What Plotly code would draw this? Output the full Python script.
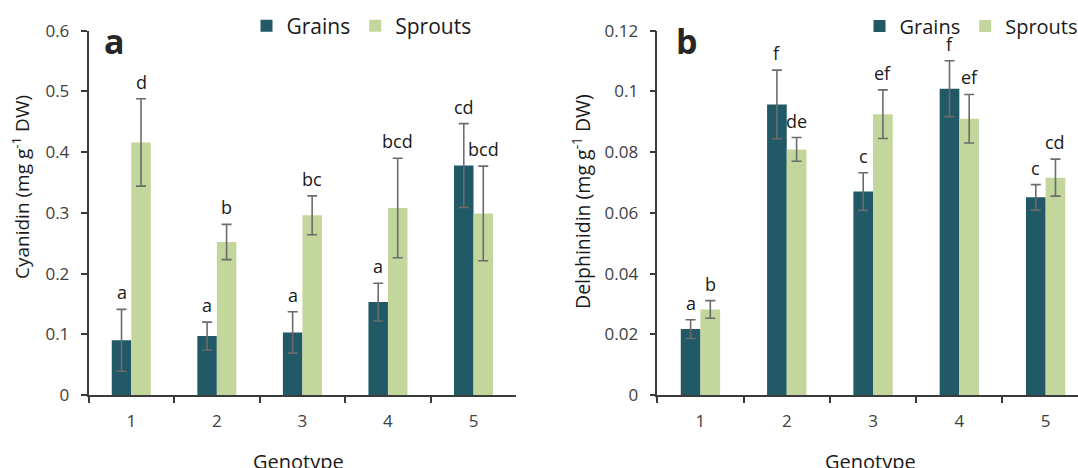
import plotly.graph_objects as go

genotypes = ["1", "2", "3", "4", "5"]

cy_grains = [0.090, 0.097, 0.103, 0.153, 0.378]
cy_grains_err = [0.051, 0.023, 0.034, 0.031, 0.069]
cy_sprouts = [0.416, 0.252, 0.296, 0.308, 0.299]
cy_sprouts_err = [0.072, 0.029, 0.032, 0.082, 0.078]
cy_grains_lbl = ["a", "a", "a", "a", "cd"]
cy_sprouts_lbl = ["d", "b", "bc", "bcd", "bcd"]

de_grains = [0.0217, 0.0957, 0.0670, 0.1009, 0.0651]
de_grains_err = [0.0031, 0.0113, 0.0062, 0.0092, 0.0042]
de_sprouts = [0.0282, 0.0809, 0.0925, 0.0910, 0.0716]
de_sprouts_err = [0.0029, 0.0039, 0.0080, 0.0080, 0.0061]
de_grains_lbl = ["a", "f", "c", "f", "c"]
de_sprouts_lbl = ["b", "de", "ef", "ef", "cd"]

C_GRAINS = "#215967"
C_SPROUTS = "#C3D69B"
ERR_C = "#6b6b6b"
AX_C = "#3a3a3a"
TXT_C = "#1a1a1a"
FONT = "Open Sans"
BARGAP = 0.544

fig = go.Figure()

def add_bars(xa, ya, g, ge, s, se, legend):
    for name, vals, errs, col in (("Grains", g, ge, C_GRAINS), ("Sprouts", s, se, C_SPROUTS)):
        fig.add_trace(go.Bar(
            x=genotypes, y=vals, name=name, marker=dict(color=col, line=dict(width=0)),
            error_y=dict(type="data", array=errs, visible=True, color=ERR_C, thickness=1.6, width=5),
            xaxis=xa, yaxis=ya, legend=legend,
        ))

add_bars("x", "y", cy_grains, cy_grains_err, cy_sprouts, cy_sprouts_err, "legend")
add_bars("x2", "y2", de_grains, de_grains_err, de_sprouts, de_sprouts_err, "legend2")

annotations = []
off = (1 - BARGAP) / 4
def add_letters(xref, yref, vals, errs, labels, sign):
    for i, (v, e, t) in enumerate(zip(vals, errs, labels)):
        annotations.append(dict(
            x=i + sign * off, y=v + e, xref=xref, yref=yref, text=t, showarrow=False,
            yanchor="bottom", xanchor="center", yshift=3,
            font=dict(family=FONT, size=18, color=TXT_C),
        ))

add_letters("x", "y", cy_grains, cy_grains_err, cy_grains_lbl, -1)
add_letters("x", "y", cy_sprouts, cy_sprouts_err, cy_sprouts_lbl, 1)
add_letters("x2", "y2", de_grains, de_grains_err, de_grains_lbl, -1)
add_letters("x2", "y2", de_sprouts, de_sprouts_err, de_sprouts_lbl, 1)

W, H = 1078, 468
def px(xp):
    return xp / W
def py(yp):
    return (H - yp) / H

# panel letters
for lx, lt in ((114, "a"), (687, "b")):
    annotations.append(dict(x=px(lx), y=py(66), xref="paper", yref="paper", text="<b>%s</b>" % lt,
                            showarrow=False, xanchor="center", yanchor="bottom",
                            font=dict(family=FONT, size=34, color="#262626")))
# axis titles
annotations.append(dict(x=px(21), y=py(187), xref="paper", yref="paper",
                        text="Cyanidin (mg g<sup>-1</sup> DW)", textangle=-90, showarrow=False,
                        xanchor="center", yanchor="middle",
                        font=dict(family=FONT, size=19, color=TXT_C)))
annotations.append(dict(x=px(581), y=py(202), xref="paper", yref="paper",
                        text="Delphinidin (mg g<sup>-1</sup> DW)", textangle=-90, showarrow=False,
                        xanchor="center", yanchor="middle",
                        font=dict(family=FONT, size=19.5, color=TXT_C)))
for gx in (298, 870):
    annotations.append(dict(x=px(gx), y=py(461), xref="paper", yref="paper", text="Genotype",
                            showarrow=False, xanchor="center", yanchor="middle",
                            font=dict(family=FONT, size=20, color=TXT_C)))

ydom = [py(395), py(30.7)]
common_x = dict(type="category", tickson="boundaries", ticks="outside", ticklen=6, tickwidth=1.5,
                tickcolor=AX_C, showline=True, linecolor=AX_C, linewidth=1.5, showgrid=False,
                zeroline=False, tickfont=dict(family=FONT, size=17, color="#404040"),
                ticklabelstandoff=10, fixedrange=True)
common_y = dict(ticks="outside", ticklen=6, tickwidth=1.5, tickcolor=AX_C, showline=True,
                linecolor=AX_C, linewidth=1.5, showgrid=False, zeroline=False,
                tickfont=dict(family=FONT, size=17, color="#404040"), ticklabelstandoff=8,
                domain=ydom, fixedrange=True)

legend_common = dict(orientation="h", y=py(26), xanchor="left", yanchor="middle",
                     bgcolor="rgba(0,0,0,0)", itemclick=False, itemdoubleclick=False)

fig.update_layout(
    width=W, height=H,
    margin=dict(l=0, r=0, t=0, b=0, autoexpand=False),
    paper_bgcolor="white", plot_bgcolor="white",
    barmode="group", bargap=BARGAP, bargroupgap=0,
    xaxis=dict(domain=[px(88.5), px(516.3)], range=[-0.5, 4.5], anchor="y", **common_x),
    yaxis=dict(range=[0, 0.6], dtick=0.1, anchor="x", **common_y),
    xaxis2=dict(domain=[px(657.3), 1.0], range=[-0.5, 4.375], anchor="y2", **common_x),
    yaxis2=dict(range=[0, 0.12], dtick=0.02, anchor="x2", **common_y),
    legend=dict(x=px(246.5), font=dict(family=FONT, size=21, color=TXT_C), **legend_common),
    legend2=dict(x=px(859.5), font=dict(family=FONT, size=20, color=TXT_C), **legend_common),
    annotations=annotations,
    showlegend=True,
)

fig.write_html("out.html", config={"displayModeBar": False},
               post_script="document.body.style.margin='0px';")
